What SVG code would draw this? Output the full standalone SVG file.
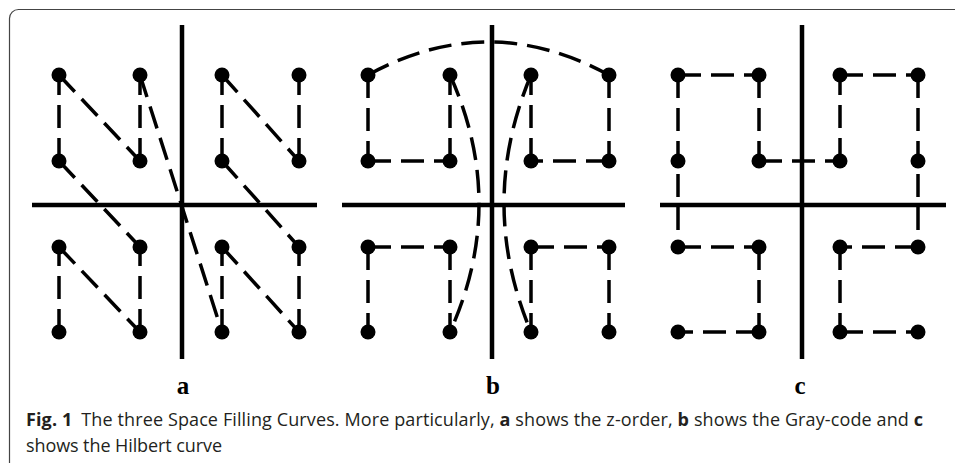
<svg xmlns="http://www.w3.org/2000/svg" width="955" height="463" viewBox="0 0 955 463">
<style>
.axis{stroke:#000;stroke-width:4.5;fill:none}
.edge{stroke:#000;stroke-width:3.5;fill:none;stroke-dasharray:23 10}
.dot{fill:#000}
.lbl{font-family:"Liberation Serif",serif;font-weight:bold;font-size:25px;fill:#000;text-anchor:middle}
.cap{font-family:"Open Sans","Liberation Sans",sans-serif;font-size:18px;fill:#231f20}
.b{font-weight:bold}
</style>
<rect x="9.5" y="9.5" width="980" height="500" rx="9" fill="#fff" stroke="#444" stroke-width="1.2"/>

<!-- Panel a: z-order -->
<g id="panel-a-axes">
<line class="axis" x1="182" y1="25" x2="182" y2="359"/>
<line class="axis" x1="32" y1="205" x2="317" y2="205"/>
</g>
<g id="panel-a-connectors">
<line class="edge" x1="59" y1="161" x2="59" y2="75"/>
<line class="edge" x1="59" y1="75" x2="140" y2="161"/>
<line class="edge" x1="140" y1="161" x2="140" y2="75"/>
<line class="edge" x1="140" y1="75" x2="222" y2="332"/>
<line class="edge" x1="222" y1="161" x2="222" y2="75"/>
<line class="edge" x1="222" y1="75" x2="299" y2="161"/>
<line class="edge" x1="299" y1="161" x2="299" y2="75"/>
<line class="edge" x1="59" y1="161" x2="140" y2="247"/>
<line class="edge" x1="222" y1="161" x2="299" y2="247"/>
<line class="edge" x1="59" y1="332" x2="59" y2="247"/>
<line class="edge" x1="59" y1="247" x2="140" y2="332"/>
<line class="edge" x1="140" y1="332" x2="140" y2="247"/>
<line class="edge" x1="222" y1="332" x2="222" y2="247"/>
<line class="edge" x1="222" y1="247" x2="299" y2="332"/>
<line class="edge" x1="299" y1="332" x2="299" y2="247"/>
</g>
<g id="a-n1"><circle class="dot" cx="59" cy="75" r="7.5"/></g>
<g id="a-n2"><circle class="dot" cx="140" cy="75" r="7.5"/></g>
<g id="a-n3"><circle class="dot" cx="222" cy="75" r="7.5"/></g>
<g id="a-n4"><circle class="dot" cx="299" cy="75" r="7.5"/></g>
<g id="a-n5"><circle class="dot" cx="59" cy="161" r="7.5"/></g>
<g id="a-n6"><circle class="dot" cx="140" cy="161" r="7.5"/></g>
<g id="a-n7"><circle class="dot" cx="222" cy="161" r="7.5"/></g>
<g id="a-n8"><circle class="dot" cx="299" cy="161" r="7.5"/></g>
<g id="a-n9"><circle class="dot" cx="59" cy="247" r="7.5"/></g>
<g id="a-n10"><circle class="dot" cx="140" cy="247" r="7.5"/></g>
<g id="a-n11"><circle class="dot" cx="222" cy="247" r="7.5"/></g>
<g id="a-n12"><circle class="dot" cx="299" cy="247" r="7.5"/></g>
<g id="a-n13"><circle class="dot" cx="59" cy="332" r="7.5"/></g>
<g id="a-n14"><circle class="dot" cx="140" cy="332" r="7.5"/></g>
<g id="a-n15"><circle class="dot" cx="222" cy="332" r="7.5"/></g>
<g id="a-n16"><circle class="dot" cx="299" cy="332" r="7.5"/></g>
<text class="lbl" x="183" y="394">a</text>

<!-- Panel b: Gray-code -->
<g id="panel-b-axes">
<line class="axis" x1="492" y1="25" x2="492" y2="359"/>
<line class="axis" x1="342" y1="205" x2="625" y2="205"/>
</g>
<g id="panel-b-connectors">
<path class="edge" d="M368,75 Q488.5,9 609,75"/>
<line class="edge" x1="368" y1="75" x2="368" y2="161"/>
<line class="edge" x1="368" y1="161" x2="450" y2="161"/>
<line class="edge" x1="450" y1="161" x2="450" y2="75"/>
<path class="edge" d="M450,75 Q508,203.5 450,332"/>
<line class="edge" x1="609" y1="75" x2="609" y2="161"/>
<line class="edge" x1="609" y1="161" x2="531" y2="161"/>
<line class="edge" x1="531" y1="161" x2="531" y2="75"/>
<path class="edge" d="M531,75 Q477,203.5 531,332"/>
<line class="edge" x1="368" y1="247" x2="450" y2="247"/>
<line class="edge" x1="368" y1="247" x2="368" y2="332"/>
<line class="edge" x1="450" y1="247" x2="450" y2="332"/>
<line class="edge" x1="531" y1="247" x2="609" y2="247"/>
<line class="edge" x1="531" y1="247" x2="531" y2="332"/>
<line class="edge" x1="609" y1="247" x2="609" y2="332"/>
</g>
<g id="b-n1"><circle class="dot" cx="368" cy="75" r="7.5"/></g>
<g id="b-n2"><circle class="dot" cx="450" cy="75" r="7.5"/></g>
<g id="b-n3"><circle class="dot" cx="531" cy="75" r="7.5"/></g>
<g id="b-n4"><circle class="dot" cx="609" cy="75" r="7.5"/></g>
<g id="b-n5"><circle class="dot" cx="368" cy="161" r="7.5"/></g>
<g id="b-n6"><circle class="dot" cx="450" cy="161" r="7.5"/></g>
<g id="b-n7"><circle class="dot" cx="531" cy="161" r="7.5"/></g>
<g id="b-n8"><circle class="dot" cx="609" cy="161" r="7.5"/></g>
<g id="b-n9"><circle class="dot" cx="368" cy="247" r="7.5"/></g>
<g id="b-n10"><circle class="dot" cx="450" cy="247" r="7.5"/></g>
<g id="b-n11"><circle class="dot" cx="531" cy="247" r="7.5"/></g>
<g id="b-n12"><circle class="dot" cx="609" cy="247" r="7.5"/></g>
<g id="b-n13"><circle class="dot" cx="368" cy="332" r="7.5"/></g>
<g id="b-n14"><circle class="dot" cx="450" cy="332" r="7.5"/></g>
<g id="b-n15"><circle class="dot" cx="531" cy="332" r="7.5"/></g>
<g id="b-n16"><circle class="dot" cx="609" cy="332" r="7.5"/></g>
<text class="lbl" x="493" y="394">b</text>

<!-- Panel c: Hilbert -->
<g id="panel-c-axes">
<line class="axis" x1="802" y1="25" x2="802" y2="359"/>
<line class="axis" x1="660" y1="205" x2="946" y2="205"/>
</g>
<g id="panel-c-connectors">
<line class="edge" x1="678" y1="75" x2="759" y2="75"/>
<line class="edge" x1="759" y1="75" x2="759" y2="161"/>
<line class="edge" x1="759" y1="161" x2="840" y2="161"/>
<line class="edge" x1="840" y1="161" x2="840" y2="75"/>
<line class="edge" x1="840" y1="75" x2="918" y2="75"/>
<line class="edge" x1="918" y1="75" x2="918" y2="247"/>
<line class="edge" x1="918" y1="247" x2="840" y2="247"/>
<line class="edge" x1="840" y1="247" x2="840" y2="332"/>
<line class="edge" x1="840" y1="332" x2="918" y2="332"/>
<line class="edge" x1="678" y1="75" x2="678" y2="247"/>
<line class="edge" x1="678" y1="247" x2="759" y2="247"/>
<line class="edge" x1="759" y1="247" x2="759" y2="332"/>
<line class="edge" x1="759" y1="332" x2="678" y2="332"/>
</g>
<g id="c-n1"><circle class="dot" cx="678" cy="75" r="7.5"/></g>
<g id="c-n2"><circle class="dot" cx="759" cy="75" r="7.5"/></g>
<g id="c-n3"><circle class="dot" cx="840" cy="75" r="7.5"/></g>
<g id="c-n4"><circle class="dot" cx="918" cy="75" r="7.5"/></g>
<g id="c-n5"><circle class="dot" cx="678" cy="161" r="7.5"/></g>
<g id="c-n6"><circle class="dot" cx="759" cy="161" r="7.5"/></g>
<g id="c-n7"><circle class="dot" cx="840" cy="161" r="7.5"/></g>
<g id="c-n8"><circle class="dot" cx="918" cy="161" r="7.5"/></g>
<g id="c-n9"><circle class="dot" cx="678" cy="247" r="7.5"/></g>
<g id="c-n10"><circle class="dot" cx="759" cy="247" r="7.5"/></g>
<g id="c-n11"><circle class="dot" cx="840" cy="247" r="7.5"/></g>
<g id="c-n12"><circle class="dot" cx="918" cy="247" r="7.5"/></g>
<g id="c-n13"><circle class="dot" cx="678" cy="332" r="7.5"/></g>
<g id="c-n14"><circle class="dot" cx="759" cy="332" r="7.5"/></g>
<g id="c-n15"><circle class="dot" cx="840" cy="332" r="7.5"/></g>
<g id="c-n16"><circle class="dot" cx="918" cy="332" r="7.5"/></g>
<text class="lbl" x="800" y="394">c</text>

<!-- Caption -->
<text class="cap" x="26" y="426" textLength="897" lengthAdjust="spacing"><tspan class="b">Fig. 1</tspan><tspan dx="9">The three Space Filling Curves. More particularly, </tspan><tspan class="b">a</tspan><tspan> shows the z-order, </tspan><tspan class="b">b</tspan><tspan> shows the Gray-code and </tspan><tspan class="b">c</tspan></text>
<text class="cap" x="26" y="452" textLength="196" lengthAdjust="spacing">shows the Hilbert curve</text>
</svg>
